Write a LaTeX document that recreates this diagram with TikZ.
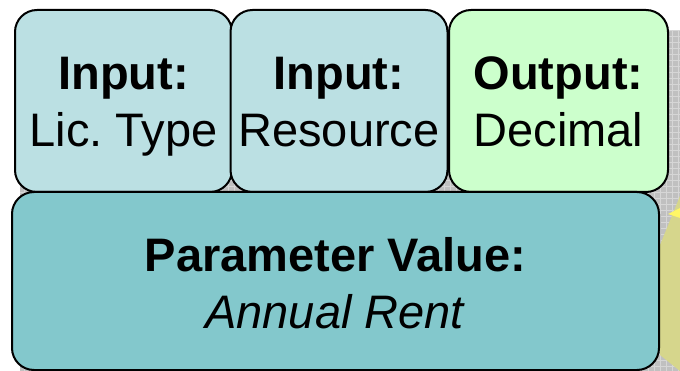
\documentclass[tikz,border=0pt]{standalone}
\usepackage{fontspec}
\setmainfont{Liberation Sans}
\usepackage{tikz}
\usetikzlibrary{positioning}
\definecolor{inputfill}{RGB}{187,224,227}
\definecolor{outputfill}{RGB}{204,255,204}
\definecolor{paramfill}{RGB}{131,200,204}
\definecolor{backgray}{RGB}{192,192,192}
\definecolor{backgrid}{RGB}{214,214,214}
\definecolor{backyellow}{RGB}{214,214,140}
\tikzset{
  cell/.style={draw=black,line width=2pt,rounded corners=22pt,inner sep=0pt},
  inputcell/.style={cell,fill=inputfill,minimum width=217pt,minimum height=182pt},
  outputcell/.style={cell,fill=outputfill,minimum width=219pt,minimum height=182pt},
  paramcell/.style={cell,fill=paramfill,minimum width=647pt,minimum height=178pt},
  celltext/.style={align=center,inner sep=0pt,font=\fontsize{47}{57}\selectfont}
}
\begin{document}
\begin{tikzpicture}[x=1pt,y=-1pt]
          \useasboundingbox (0,0) rectangle (680,371);
          % grey back plate
          \fill[backgray] (20,30) rectangle (680,371);
          \draw[backgrid,line width=0.8pt,step=6pt] (20,30) grid (680,371);
          \fill[backyellow] (680,196) -- (660,245) -- (660,355) -- (680,371) -- cycle;
          \fill[yellow!60!white] (680,208) -- (668,214) -- (680,218) -- cycle;
          % cells
          \node[inputcell] (lictype) at (123.5,101) {};
          \node[inputcell] (resource) at (339,101) {};
          \node[outputcell] (decimal) at (558.5,101) {};
          \node[paramcell] (rent) at (335.5,281) {};
          % texts
          \node[celltext] (lictypetext) at ([yshift=-6pt]lictype.center) {\strut\textbf{Input:}\\\strut Lic.\ Type};
          \node[celltext] (resourcetext) at ([yshift=-6pt]resource.center) {\strut\textbf{Input:}\\\strut Resource};
          \node[celltext] (decimaltext) at ([yshift=-6pt]decimal.center) {\strut\textbf{Output:}\\\strut Decimal};
          \node[celltext] (renttext) at ([yshift=-8pt]rent.center) {\strut\textbf{Parameter Value:}\\\strut\textit{Annual Rent}};
        \end{tikzpicture}
\end{document}
